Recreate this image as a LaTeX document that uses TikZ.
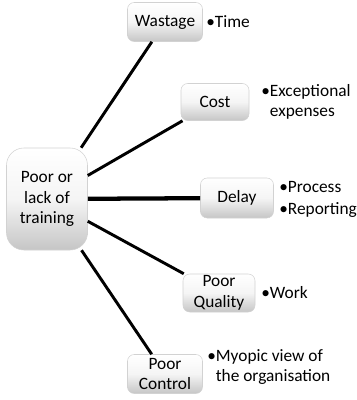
\documentclass[tikz,border=0pt]{standalone}
\usepackage{fontspec}
\setmainfont{Carlito}
\begin{document}
\begin{tikzpicture}[x=0.75pt,y=-0.75pt,
  gbox/.style={draw=gray!35, line width=0.4pt, rounded corners=5pt, top color=white, bottom color=gray!45, middle color=gray!8, align=center, font=\fontsize{13}{15.5}\selectfont, inner sep=0pt},
  bul/.style={anchor=west, align=left, font=\fontsize{13}{15.5}\selectfont, inner sep=0pt},
  conn/.style={line width=2.2pt, black}]
\useasboundingbox (0,0) rectangle (357,400);
\node[gbox, rounded corners=13pt, minimum width=81*0.75pt, minimum height=102*0.75pt] (root) at (47,199) {Poor or\\lack of\\training};
\node[gbox, minimum width=75*0.75pt, minimum height=39*0.75pt] (w) at (165,22) {Wastage};
\node[gbox, minimum width=68*0.75pt, minimum height=37*0.75pt] (c) at (215,102) {Cost};
\node[gbox, minimum width=73*0.75pt, minimum height=40*0.75pt] (d) at (237,198) {Delay};
\node[gbox, minimum width=72*0.75pt, minimum height=38*0.75pt] (q) at (219,293) {Poor\\Quality};
\node[gbox, minimum width=75*0.75pt, minimum height=39*0.75pt] (p) at (165,374) {Poor\\Control};
\node[bul] (wt) at (206,22) {•Time};
\node[bul] (ct) at (261,102) {•Exceptional\\\phantom{•}expenses};
\node[bul] (dt) at (279,199) {•Process\\[1pt]•Reporting};
\node[bul] (qt) at (261,293) {•Work};
\node[bul] (pt) at (207,367) {•Myopic view of\\\phantom{•}the organisation};
\draw[conn] (root) -- (w);
\draw[conn] (root) -- (c);
\draw[conn, line width=3.2pt] (root) -- (d);
\draw[conn] (root) -- (q);
\draw[conn] (root) -- (p);
\end{tikzpicture}
\end{document}
